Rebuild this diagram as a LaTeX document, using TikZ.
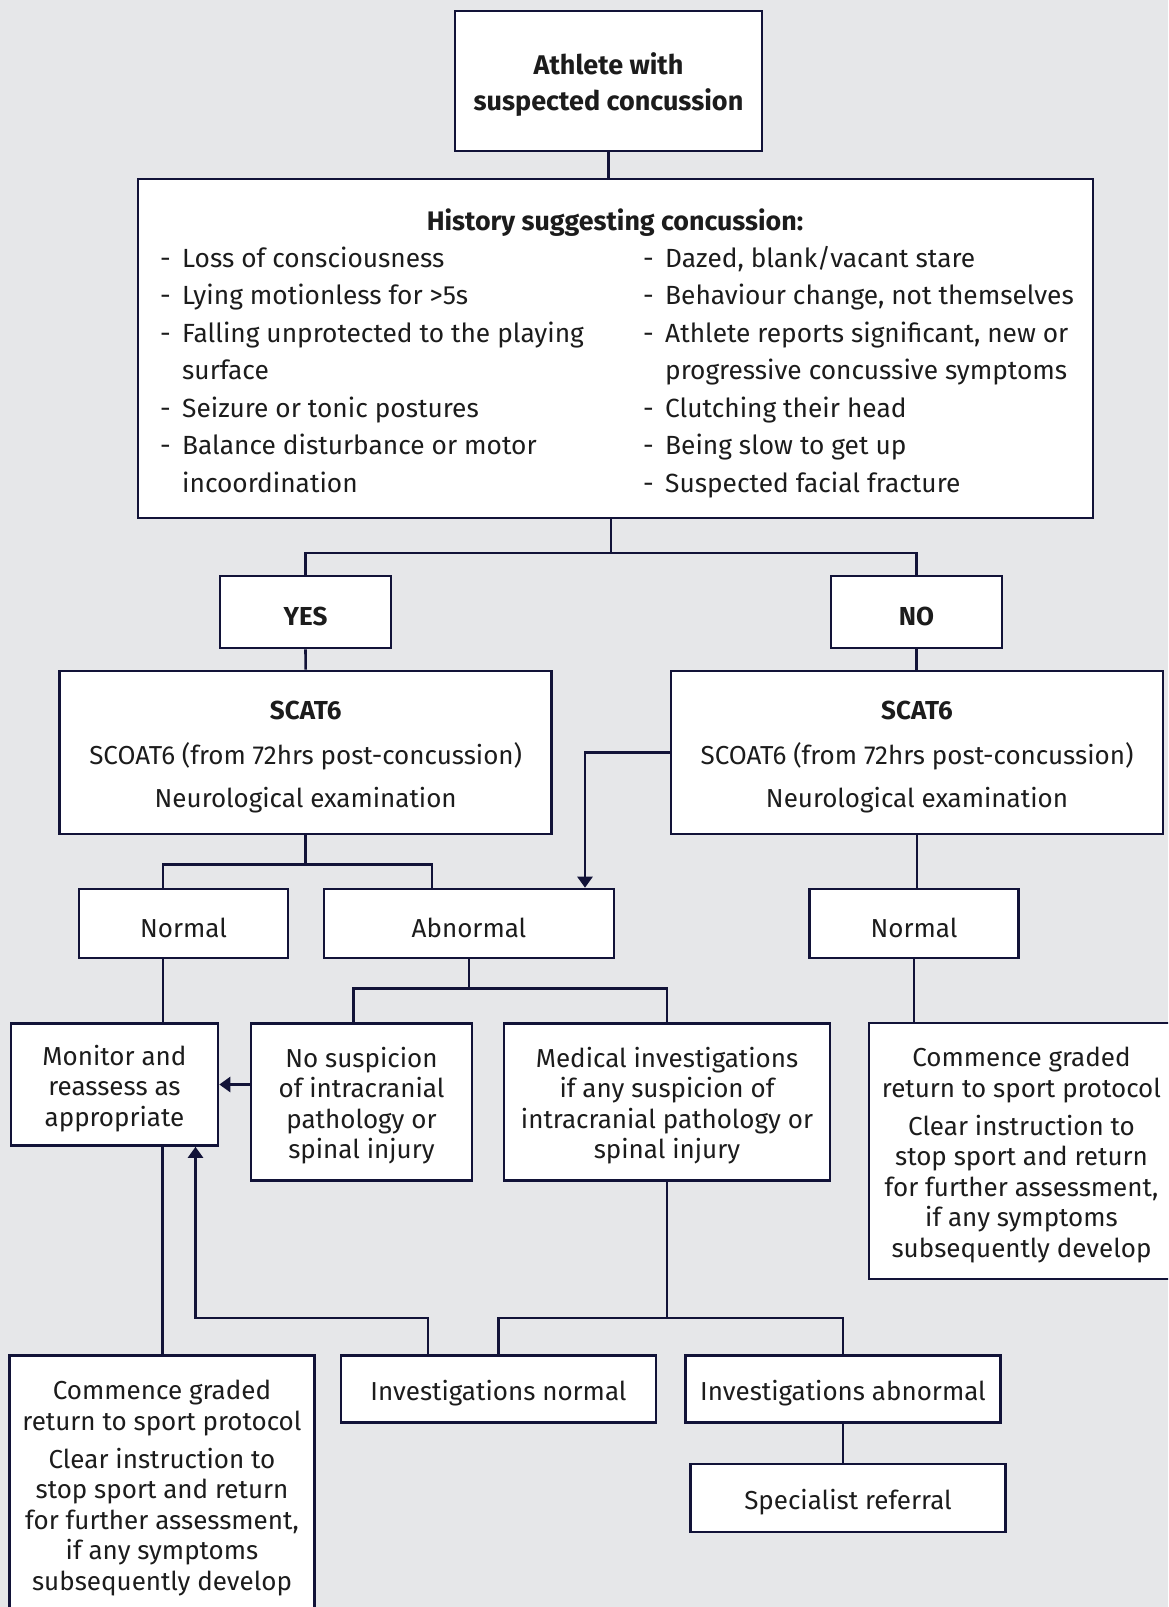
\documentclass[tikz,border=0pt]{standalone}
\usepackage{fontspec}
\setmainfont{Fira Sans}
\usetikzlibrary{arrows.meta,positioning}
\definecolor{navy}{HTML}{121338}
\definecolor{bggrey}{HTML}{E6E7E9}
\definecolor{ink}{HTML}{1C1C1C}
\newcommand{\boxfont}{\fontsize{26}{30.5}\selectfont}
\newcommand{\listfont}{\fontsize{26.3}{37.5}\selectfont}
\newcommand{\boxstrut}{\rule{0pt}{28pt}}
\tikzset{
    box/.style={draw=navy, line width=2.6pt, fill=white, inner sep=0pt,
        align=center, text=ink, font=\boxfont},
    link/.style={draw=navy, line width=2.6pt},
    arrowlink/.style={link, -{Triangle[width=15pt,length=11pt]}},
}

\begin{document}
\begin{tikzpicture}[x=1pt,y=-1pt]
        \useasboundingbox (0,0) rectangle (1168,1607);
        \fill[bggrey] (0,0) rectangle (1168,1607);
        \clip (0,0) rectangle (1168,1607);
        % top of the chart
        \node[box, minimum width=307, minimum height=140, font=\fontsize{27}{30.5}\selectfont\bfseries] (athlete) at (608.5,81) {\boxstrut Athlete with\\[5.5pt]suspected concussion};
        \node[box, minimum width=955, minimum height=339] (history) at (615.5,348.5) {};
        \node[anchor=base, inner sep=0pt, text=ink, font=\fontsize{26.8}{37.5}\selectfont\bfseries] (histT) at (615,230) {History suggesting concussion:};
        \node[anchor=base west, inner sep=0pt, text=ink, font=\listfont] (histL) at (160,267) {\begin{tabular}[t]{@{}p{22pt}@{}l@{}}
            - & Loss of consciousness\\
            - & Lying motionless for >5s\\
            - & Falling unprotected to the playing\\
              & surface\\
            - & Seizure or tonic postures\\
            - & Balance disturbance or motor\\
              & incoordination
        \end{tabular}};
        \node[anchor=base west, inner sep=0pt, text=ink, font=\listfont] (histR) at (643,267) {\begin{tabular}[t]{@{}p{22pt}@{}l@{}}
            - & Dazed, blank/vacant stare\\
            - & Behaviour change, not themselves\\
            - & Athlete reports significant, new or\\
              & progressive concussive symptoms\\
            - & Clutching their head\\
            - & Being slow to get up\\
            - & Suspected facial fracture
        \end{tabular}};
        \node[box, minimum width=171, minimum height=72] (yes) at (305.5,612) {\boxstrut\bfseries YES};
        \node[box, minimum width=171, minimum height=72] (no) at (916.5,612) {\boxstrut\bfseries NO};
        \node[box, minimum width=492, minimum height=163] (scatL) at (305.7,752.5) {\boxstrut\bfseries SCAT6\\[14pt]SCOAT6 (from 72hrs post-concussion)\\[13pt]Neurological examination};
        \node[box, minimum width=492, minimum height=163] (scatR) at (917,752.5) {\boxstrut\bfseries SCAT6\\[14pt]SCOAT6 (from 72hrs post-concussion)\\[13pt]Neurological examination};
        % second level
        \node[box, minimum width=209, minimum height=69] (normL) at (183.5,923.5) {\boxstrut Normal};
        \node[box, minimum width=290, minimum height=69] (abn) at (469,923.5) {\boxstrut Abnormal};
        \node[box, minimum width=208.5, minimum height=69] (normR) at (914,923.5) {\boxstrut Normal};
        \node[box, minimum width=207, minimum height=122] (monitor) at (114.5,1084.5) {\boxstrut Monitor and\\reassess as\\appropriate};
        \node[box, minimum width=221, minimum height=157.5] (nosusp) at (361.5,1102) {\boxstrut No suspicion\\of intracranial\\pathology or\\spinal injury};
        \node[box, minimum width=326, minimum height=157.5] (medical) at (667,1102) {\boxstrut Medical investigations\\if any suspicion of\\intracranial pathology or\\spinal injury};
        \node[box, minimum width=305, minimum height=256] (retR) at (1021.5,1151) {\boxstrut Commence graded\\return to sport protocol\\[7.5pt]Clear instruction to\\stop sport and return\\for further assessment,\\if any symptoms\\subsequently develop};
        \node[box, minimum width=305, minimum height=256] (retL) at (162,1483.5) {\boxstrut Commence graded\\return to sport protocol\\[7.5pt]Clear instruction to\\stop sport and return\\for further assessment,\\if any symptoms\\subsequently develop};
        \node[box, minimum width=315, minimum height=67.5] (invN) at (498.5,1389) {\boxstrut Investigations normal};
        \node[box, minimum width=314.5, minimum height=67.5] (invA) at (843,1389) {\boxstrut Investigations abnormal};
        \node[box, minimum width=314.5, minimum height=68] (spec) at (848,1498) {\boxstrut Specialist referral};
        % connectors
        \coordinate (hj) at (611,553);
        \draw[link] (athlete.south) -- (athlete.south |- history.north);
        \draw[link] (hj |- history.south) -- (hj);
        \draw[link] (yes.north) |- (hj) -| (no.north);
        \draw[link] (yes.south) -- (scatL.north);
        \draw[link] (no.south) -- (no.south |- scatR.north);
        \draw[link] (scatL.south) -- ++(0,29) coordinate (sj);
        \draw[link] ([xshift=-20.5pt]normL.north) |- (sj) -| ([xshift=-37pt]abn.north);
        \draw[arrowlink] (scatR.west) -| ([xshift=116pt]abn.north);
        \draw[link] (scatR.south) -- (scatR.south |- normR.north);
        \draw[link] ([xshift=-20.5pt]normL.south) -- ([xshift=-20.5pt]normL.south |- monitor.north);
        \draw[link] (abn.south) -- ++(0,29) coordinate (aj);
        \draw[link] ([xshift=-8pt]nosusp.north) |- (aj) -| (medical.north);
        \draw[arrowlink] (nosusp.west |- monitor.east) -- (monitor.east);
        \draw[link] ([xshift=48pt]monitor.south) -- ([xshift=48pt]monitor.south |- retL.north);
        \draw[link] (medical.south) -- ++(0,136) coordinate (mj);
        \draw[link] (invN.north) |- (mj) -| (invA.north);
        \coordinate (lp) at ([xshift=81pt]monitor.south |- mj);
        \draw[arrowlink] ([xshift=-70.5pt]invN.north) |- (lp) -- ([xshift=81pt]monitor.south);
        \draw[link] (invA.south) -- (invA.south |- spec.north);
        \draw[link] (normR.south) -- (normR.south |- retR.north);
\end{tikzpicture}
\end{document}
